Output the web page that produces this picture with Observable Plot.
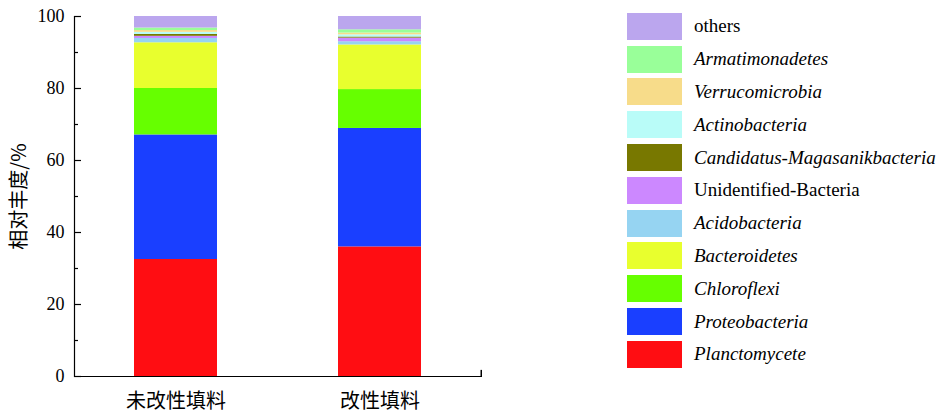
<!DOCTYPE html>
<html>
<head>
<meta charset="utf-8">
<script src="https://cdn.jsdelivr.net/npm/d3@7"></script>
<script src="https://cdn.jsdelivr.net/npm/@observablehq/plot@0.6"></script>
<style>
  body { margin: 0; background: #fff; }
  #wrap { position: relative; width: 951px; height: 416px; }
  #chart { position: absolute; left: 0; top: 0; }
  #legend { position: absolute; left: 627px; top: 10px; font-family: "Liberation Serif", Tinos, "Nimbus Roman", "DejaVu Serif", serif; font-size: 19px; color: #000; }
  .row { display: flex; align-items: center; height: 32.8px; }
  .sw { width: 55px; height: 27px; margin-right: 12px; flex: none; }
  .lab { white-space: nowrap; }
</style>
</head>
<body>
<div id="wrap"><div id="chart"></div><div id="legend"></div></div>
<script>
// Categories (x)
const groups = ["未改性填料", "改性填料"];
// Phyla, stacked bottom-up
const phyla = ["Planctomycete", "Proteobacteria", "Chloroflexi", "Bacteroidetes", "Acidobacteria",
  "Unidentified-Bacteria", "Candidatus-Magasanikbacteria", "Actinobacteria", "Verrucomicrobia",
  "Armatimonadetes", "others"];
// Relative abundance (%) per phylum, same order as phyla
const untreated = [32.5, 34.6, 12.9, 12.7, 1.2, 0.6, 0.5, 0.6, 0.5, 0.7, 3.2];
const modified  = [36.0, 32.9, 10.8, 12.4, 0.9, 1.0, 0.3, 0.6, 0.5, 0.9, 3.7];
const colors = ["#FF0D12", "#1A3FFF", "#66FF00", "#E8FF2E", "#96D4F2", "#CC88FF", "#787800",
  "#B9FCF8", "#F7DC8A", "#99FF99", "#BBA6EE"];
const nonItalic = ["others", "Unidentified-Bacteria"];
const yTicks = [0, 20, 40, 60, 80, 100];
const yMinor = [10, 30, 50, 70, 90];
const yLabel = "相对丰度/%";

const data = [];
groups.forEach((g, gi) => {
  const vals = gi === 0 ? untreated : modified;
  phyla.forEach((p, i) => data.push({group: g, phylum: p, value: vals[i]}));
});

const font = "'Liberation Serif', Tinos, 'Nimbus Roman', 'DejaVu Serif', serif";
const cjk = "'Noto Sans CJK SC', sans-serif";

const chart = Plot.plot({
  width: 500,
  height: 416,
  marginLeft: 74,
  marginRight: 18,
  marginTop: 16,
  marginBottom: 40,
  style: {fontFamily: font, fontSize: "18px", color: "#000", background: "transparent"},
  x: {domain: groups, paddingInner: 0.593, paddingOuter: 0.294, label: null},
  y: {domain: [0, 100], nice: false},
  color: {domain: phyla, range: colors},
  marks: [
    Plot.barY(data, Plot.stackY({x: "group", y: "value", fill: "phylum", order: phyla})),
    Plot.axisY({ticks: yTicks, tickSize: 0, tickPadding: 10, label: yLabel, labelAnchor: "center",
      labelOffset: 63, labelArrow: "none", fontSize: 18}),
    Plot.axisX({tickSize: 0, tickPadding: 17, label: null, fontSize: 20, fontFamily: cjk}),
    Plot.tickY(yTicks, {y: d => d, insetRight: 401, stroke: "#000", strokeWidth: 1.2}),
    Plot.tickY(yMinor, {y: d => d, insetRight: 404, stroke: "#000", strokeWidth: 1.2}),
    Plot.rect([0], {y1: 0, y2: 1.7, insetLeft: 406.5, fill: "#000"}),
    Plot.ruleY([0], {stroke: "#000", strokeWidth: 1.2}),
    Plot.frame({anchor: "left", stroke: "#000", strokeWidth: 1.2})
  ]
});
document.getElementById("chart").appendChild(chart);
d3.select(chart).selectAll("[aria-label='y-axis label']")
  .style("font-family", cjk).style("font-size", "20px");

// Legend (top to bottom is reverse stacking order)
const legend = d3.select("#legend");
phyla.slice().reverse().forEach(p => {
  const i = phyla.indexOf(p);
  const row = legend.append("div").attr("class", "row");
  row.append("div").attr("class", "sw").style("background", colors[i]);
  row.append("span").attr("class", "lab").style("font-style", nonItalic.includes(p) ? "normal" : "italic").text(p);
});
</script>
</body>
</html>
